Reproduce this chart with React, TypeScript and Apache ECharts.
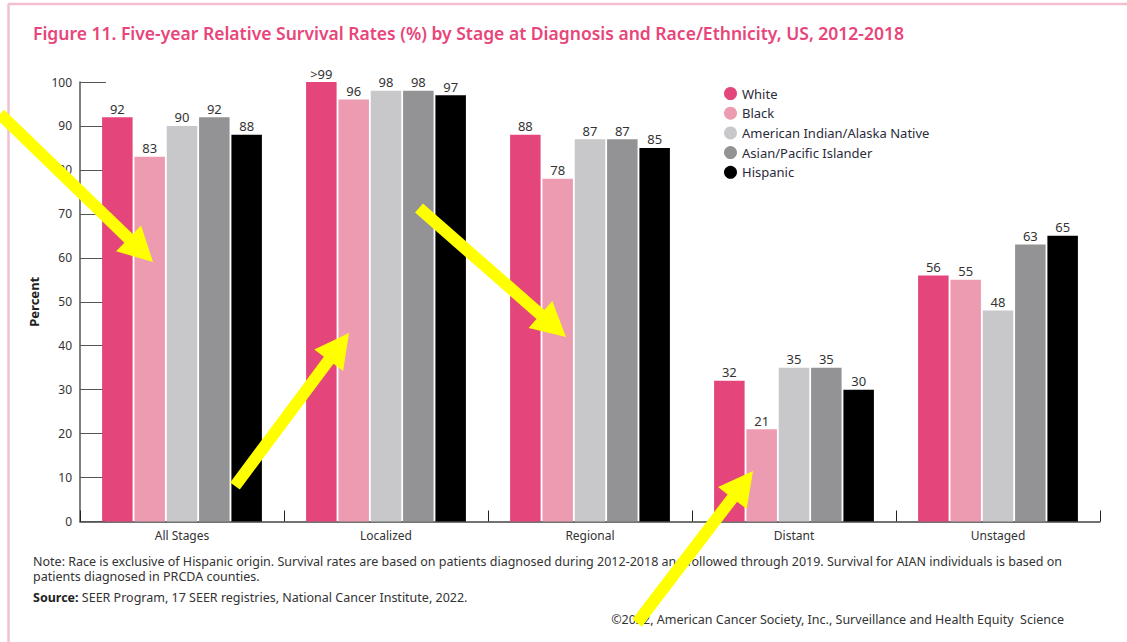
import React, { useEffect, useRef } from "react";
import * as echarts from "echarts";

const categories = ["All Stages", "Localized", "Regional", "Distant", "Unstaged"];
const seriesNames = [
  "White",
  "Black",
  "American Indian/Alaska Native",
  "Asian/Pacific Islander",
  "Hispanic",
];
const white = [92, 100, 88, 32, 56];
const black = [83, 96, 78, 21, 55];
const aian = [90, 98, 87, 35, 48];
const asian = [92, 98, 87, 35, 63];
const hispanic = [88, 97, 85, 30, 65];
const valueLabels: (string | null)[][] = [
  [null, ">99", null, null, null],
  [null, null, null, null, null],
  [null, null, null, null, null],
  [null, null, null, null, null],
  [null, null, null, null, null],
];
const colors = ["#E4457B", "#EC9BB0", "#C8C8CA", "#939396", "#000000"];
const yTicks = [0, 10, 20, 30, 40, 50, 60, 70, 80, 90, 100];

const titleText =
  "Figure 11. Five-year Relative Survival Rates (%) by Stage at Diagnosis and Race/Ethnicity, US, 2012-2018";
const noteLine1 =
  "Note: Race is exclusive of Hispanic origin. Survival rates are based on patients diagnosed during 2012-2018 and followed through 2019. Survival for AIAN individuals is based on";
const noteLine2 = "patients diagnosed in PRCDA counties.";
const sourceLabel = "Source:";
const sourceText = " SEER Program, 17 SEER registries, National Cancer Institute, 2022.";
const copyright = "©2022, American Cancer Society, Inc., Surveillance and Health Equity  Science";

// annotation arrows: [tailX, tailY, tipX, tipY]
const arrows = [
  [0, 114, 153, 262],
  [235, 486, 349, 333],
  [419, 208, 566, 337],
  [637, 623, 753, 471],
];

function arrowPoints(x1: number, y1: number, x2: number, y2: number) {
  const dx = x2 - x1;
  const dy = y2 - y1;
  const len = Math.sqrt(dx * dx + dy * dy);
  const ux = dx / len;
  const uy = dy / len;
  const px = -uy;
  const py = ux;
  const sw = 6; // half shaft width
  const hw = 18; // half head width
  const hl = 34; // head length
  const bx = x2 - ux * hl;
  const by = y2 - uy * hl;
  return [
    [x1 + px * sw, y1 + py * sw],
    [bx + px * sw, by + py * sw],
    [bx + px * hw, by + py * hw],
    [x2, y2],
    [bx - px * hw, by - py * hw],
    [bx - px * sw, by - py * sw],
    [x1 - px * sw, y1 - py * sw],
  ];
}

const FONT = "'Noto Sans', sans-serif";

export default function App() {
  const ref = useRef<HTMLDivElement>(null);
  useEffect(() => {
    if (!ref.current) return;
    const chart = echarts.init(ref.current, null, { renderer: "svg" });
    const dataSets = [white, black, aian, asian, hispanic];
    const option: any = {
      animation: false,
      backgroundColor: "#ffffff",
      textStyle: { fontFamily: FONT },
      legend: {
        orient: "vertical",
        left: 719,
        top: 82,
        icon: "circle",
        itemWidth: 13,
        itemHeight: 13,
        itemGap: 6.7,
        textStyle: { fontFamily: FONT, fontSize: 13, color: "#2b2b3a" },
        data: seriesNames,
      },
      grid: { left: 80, right: 27, top: 82, bottom: 120.5, containLabel: false },
      xAxis: {
        type: "category",
        data: categories,
        axisLine: { lineStyle: { color: "#444", width: 1.5 } },
        axisTick: { show: true, inside: true, length: 11, lineStyle: { color: "#222" } },
        axisLabel: { fontFamily: FONT, fontSize: 12, color: "#333", margin: 8 },
      },
      yAxis: {
        type: "value",
        min: 0,
        max: 100,
        interval: 10,
        name: "Percent",
        nameLocation: "middle",
        nameGap: 40,
        nameTextStyle: { fontFamily: FONT, fontSize: 13, fontWeight: "bold", color: "#222" },
        axisLine: { show: true, lineStyle: { color: "#555", width: 1.5 } },
        axisTick: { show: true, inside: true, length: 26, lineStyle: { color: "#555" } },
        axisLabel: {
          fontFamily: FONT,
          fontSize: 12,
          color: "#333",
          margin: 8,
          formatter: (v: number) => (yTicks.includes(v) ? String(v) : ""),
        },
        splitLine: { show: false },
      },
      series: dataSets.map((d, i) => ({
        name: seriesNames[i],
        type: "bar",
        barWidth: 30.5,
        barGap: "6%",
        itemStyle: { color: colors[i] },
        label: {
          show: true,
          position: "top",
          distance: 2,
          fontFamily: FONT,
          fontSize: 13,
          color: "#333",
          formatter: (p: any) => valueLabels[i][p.dataIndex] ?? String(p.value),
        },
        data: d,
      })),
      graphic: [
        {
          type: "line",
          shape: { x1: 8, y1: 4, x2: 1127, y2: 4 },
          style: { stroke: "#F2C0CE", lineWidth: 2.5 },
        },
        {
          type: "line",
          shape: { x1: 8.5, y1: 4, x2: 8.5, y2: 642 },
          style: { stroke: "#F2C0CE", lineWidth: 2.5 },
        },
        {
          type: "text",
          left: 33,
          top: 24,
          style: {
            text: titleText,
            fontFamily: FONT,
            fontSize: 17.5,
            fontWeight: 600,
            fill: "#E8457A",
          },
        },
        {
          type: "text",
          left: 33,
          top: 555,
          style: { text: noteLine1, fontFamily: FONT, fontSize: 12.5, fill: "#333" },
        },
        {
          type: "text",
          left: 33,
          top: 570,
          style: { text: noteLine2, fontFamily: FONT, fontSize: 12.5, fill: "#333" },
        },
        {
          type: "text",
          left: 33,
          top: 591,
          style: {
            text: "{b|" + sourceLabel + "}" + sourceText,
            fontFamily: FONT,
            fontSize: 12.5,
            fill: "#333",
            rich: { b: { fontWeight: "bold", fontFamily: FONT, fontSize: 12.5, fill: "#222" } },
          },
        },
        {
          type: "text",
          right: 63,
          top: 613,
          style: { text: copyright, fontFamily: FONT, fontSize: 12.5, fill: "#333" },
        },
        ...arrows.map((a) => ({
          type: "polygon",
          z: 100,
          shape: { points: arrowPoints(a[0], a[1], a[2], a[3]) },
          style: { fill: "#FFFF00" },
        })),
      ],
    };
    chart.setOption(option);
    return () => chart.dispose();
  }, []);
  return (
    <div
      ref={ref}
      style={{ position: "fixed", left: 0, top: 0, width: 1127, height: 642 }}
    />
  );
}
